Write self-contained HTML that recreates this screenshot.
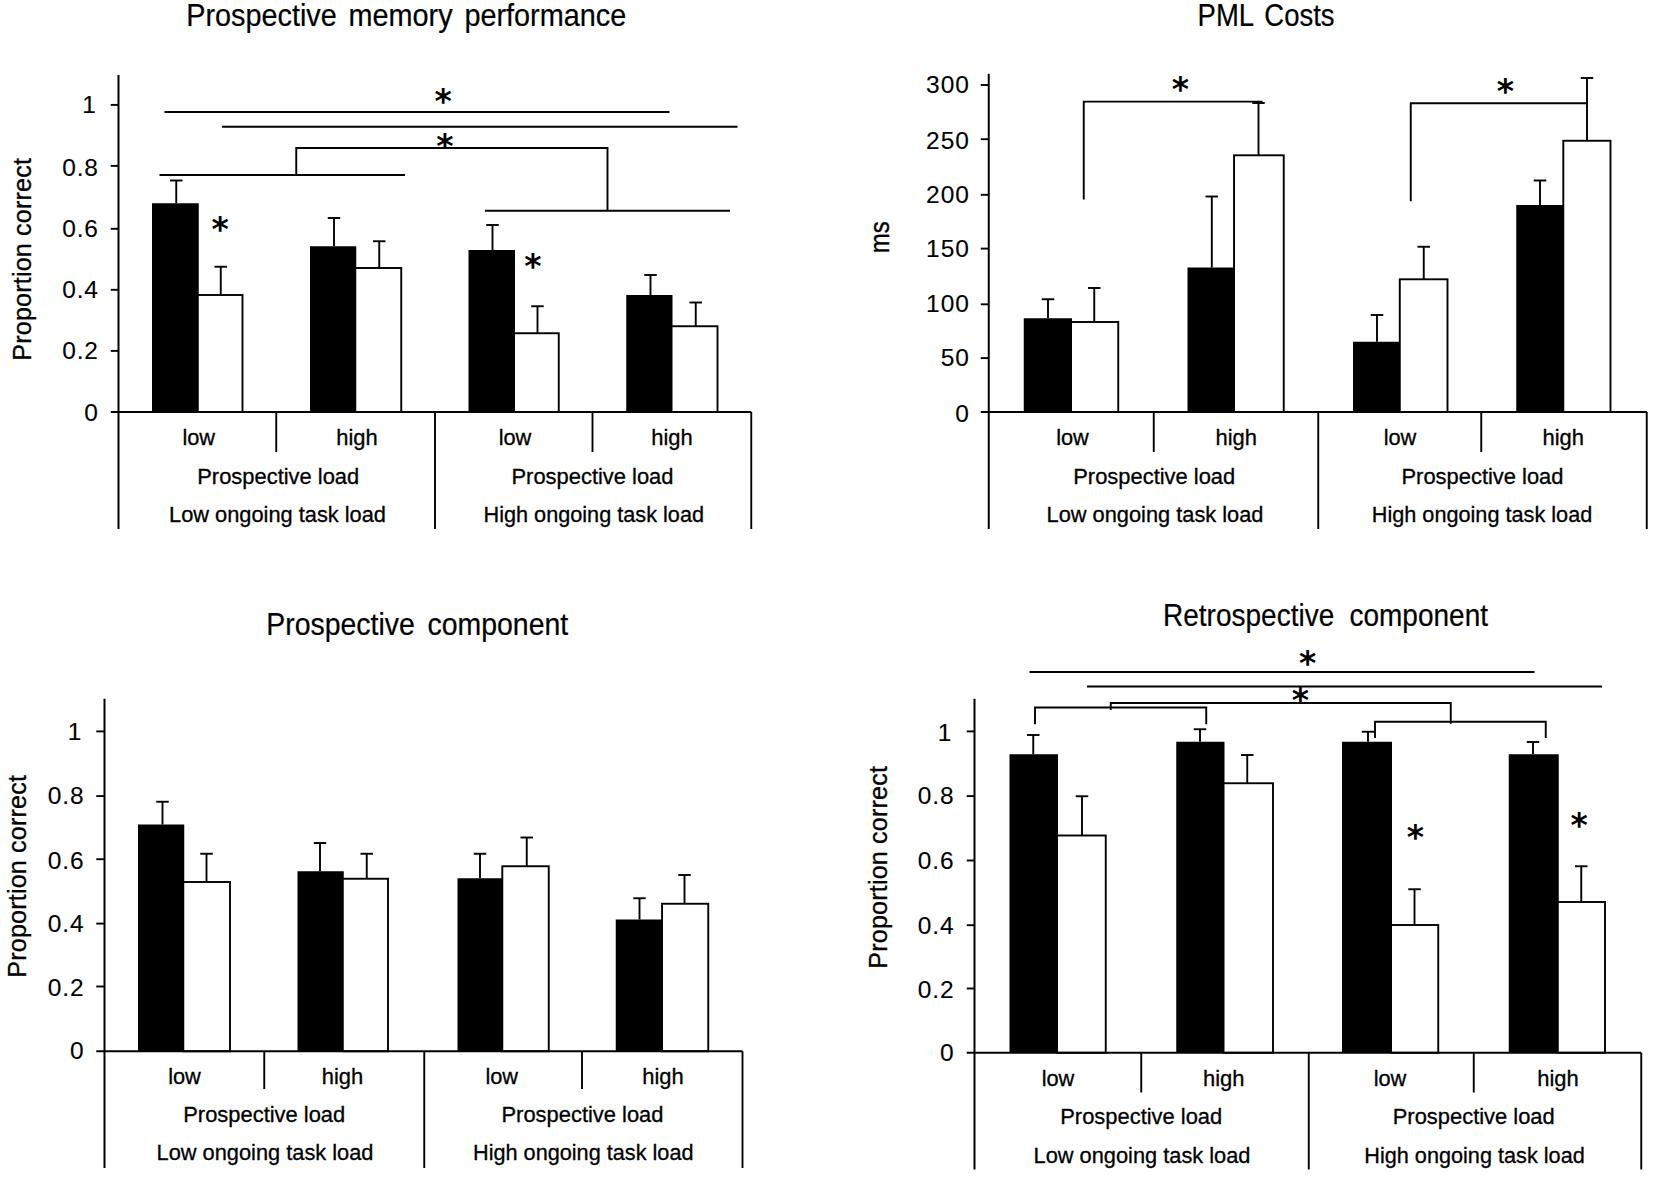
<!DOCTYPE html>
<html lang="en"><head><meta charset="utf-8"><title>Prospective memory figure</title>
<style>
html,body{margin:0;padding:0;background:#fff;}
body{width:1654px;height:1177px;overflow:hidden;}
svg{display:block;}
.sa{font-family:"Liberation Sans",sans-serif;fill:#000;stroke:#000;}
.st{font-family:"DejaVu Sans",sans-serif;font-weight:bold;fill:#000;}
</style></head><body>
<svg width="1654" height="1177" viewBox="0 0 1654 1177">
<rect width="1654" height="1177" fill="#fff"/>
<rect x="152" y="203.25" width="46.75" height="208.75" fill="#000"/>
<rect x="197.8" y="295" width="44.7" height="117" fill="#fff" stroke="#000" stroke-width="1.9"/>
<rect x="310" y="246.25" width="46.25" height="165.75" fill="#000"/>
<rect x="355.3" y="268" width="45.95" height="144" fill="#fff" stroke="#000" stroke-width="1.9"/>
<rect x="468.5" y="250" width="46.5" height="162" fill="#000"/>
<rect x="514.05" y="333.25" width="44.7" height="78.75" fill="#fff" stroke="#000" stroke-width="1.9"/>
<rect x="626.25" y="295" width="46.25" height="117" fill="#000"/>
<rect x="671.55" y="326.25" width="45.95" height="85.75" fill="#fff" stroke="#000" stroke-width="1.9"/>
<line x1="176.25" y1="180.5" x2="176.25" y2="203.25" stroke="#000" stroke-width="1.9"/>
<line x1="170.0" y1="180.5" x2="182.5" y2="180.5" stroke="#000" stroke-width="1.9"/>
<line x1="220.75" y1="266.75" x2="220.75" y2="295" stroke="#000" stroke-width="1.9"/>
<line x1="214.5" y1="266.75" x2="227.0" y2="266.75" stroke="#000" stroke-width="1.9"/>
<line x1="334" y1="218" x2="334" y2="246.25" stroke="#000" stroke-width="1.9"/>
<line x1="327.75" y1="218" x2="340.25" y2="218" stroke="#000" stroke-width="1.9"/>
<line x1="379.25" y1="241.25" x2="379.25" y2="268" stroke="#000" stroke-width="1.9"/>
<line x1="373.0" y1="241.25" x2="385.5" y2="241.25" stroke="#000" stroke-width="1.9"/>
<line x1="492.5" y1="225" x2="492.5" y2="250" stroke="#000" stroke-width="1.9"/>
<line x1="486.25" y1="225" x2="498.75" y2="225" stroke="#000" stroke-width="1.9"/>
<line x1="537.5" y1="306.25" x2="537.5" y2="333.25" stroke="#000" stroke-width="1.9"/>
<line x1="531.25" y1="306.25" x2="543.75" y2="306.25" stroke="#000" stroke-width="1.9"/>
<line x1="650.5" y1="275" x2="650.5" y2="295" stroke="#000" stroke-width="1.9"/>
<line x1="644.25" y1="275" x2="656.75" y2="275" stroke="#000" stroke-width="1.9"/>
<line x1="695.75" y1="302.5" x2="695.75" y2="326.25" stroke="#000" stroke-width="1.9"/>
<line x1="689.5" y1="302.5" x2="702.0" y2="302.5" stroke="#000" stroke-width="1.9"/>
<line x1="118.5" y1="75" x2="118.5" y2="529" stroke="#000" stroke-width="2"/>
<line x1="110.75" y1="412" x2="751.25" y2="412" stroke="#000" stroke-width="2"/>
<line x1="110.75" y1="104.9" x2="118.5" y2="104.9" stroke="#000" stroke-width="1.9"/>
<line x1="110.75" y1="165.9" x2="118.5" y2="165.9" stroke="#000" stroke-width="1.9"/>
<line x1="110.75" y1="228.8" x2="118.5" y2="228.8" stroke="#000" stroke-width="1.9"/>
<line x1="110.75" y1="289.8" x2="118.5" y2="289.8" stroke="#000" stroke-width="1.9"/>
<line x1="110.75" y1="350.9" x2="118.5" y2="350.9" stroke="#000" stroke-width="1.9"/>
<line x1="276.25" y1="412" x2="276.25" y2="452" stroke="#000" stroke-width="1.9"/>
<line x1="592.5" y1="412" x2="592.5" y2="452" stroke="#000" stroke-width="1.9"/>
<line x1="435" y1="412" x2="435" y2="529" stroke="#000" stroke-width="1.9"/>
<line x1="751.25" y1="412" x2="751.25" y2="529" stroke="#000" stroke-width="1.9"/>
<line x1="164.5" y1="112" x2="669.5" y2="112" stroke="#000" stroke-width="1.9"/>
<line x1="222" y1="126.75" x2="737.5" y2="126.75" stroke="#000" stroke-width="1.9"/>
<polyline points="296.25,175 296.25,148 607.5,148 607.5,210.75" fill="none" stroke="#000" stroke-width="1.9"/>
<line x1="159.5" y1="175" x2="405" y2="175" stroke="#000" stroke-width="1.9"/>
<line x1="485" y1="210.75" x2="730" y2="210.75" stroke="#000" stroke-width="1.9"/>
<text class="st" x="443.09999999999997" y="113.1" font-size="33" text-anchor="middle">*</text>
<text class="st" x="444.9" y="158.1" font-size="33" text-anchor="middle">*</text>
<text class="st" x="220.20000000000002" y="240.6" font-size="33" text-anchor="middle">*</text>
<text class="st" x="532.9" y="278.40000000000003" font-size="33" text-anchor="middle">*</text>
<text class="sa" x="186.2" y="25.8" font-size="30.5" stroke-width="0.2" text-anchor="start" textLength="440" lengthAdjust="spacingAndGlyphs" word-spacing="4">Prospective memory performance</text>
<text class="sa" x="96.7" y="112.8" font-size="24.5" stroke-width="0.1" text-anchor="end" letter-spacing="0.9">1</text>
<text class="sa" x="98.9" y="175.7" font-size="24.5" stroke-width="0.1" text-anchor="end" letter-spacing="0.9">0.8</text>
<text class="sa" x="98.9" y="236.6" font-size="24.5" stroke-width="0.1" text-anchor="end" letter-spacing="0.9">0.6</text>
<text class="sa" x="98.9" y="298" font-size="24.5" stroke-width="0.1" text-anchor="end" letter-spacing="0.9">0.4</text>
<text class="sa" x="98.9" y="359.2" font-size="24.5" stroke-width="0.1" text-anchor="end" letter-spacing="0.9">0.2</text>
<text class="sa" x="98.9" y="421.4" font-size="24.5" stroke-width="0.1" text-anchor="end" letter-spacing="0.9">0</text>
<text class="sa" transform="translate(31.4,259.4) rotate(-90) scale(1,1)" font-size="25.2" stroke-width="0.3" text-anchor="middle" textLength="202.7" lengthAdjust="spacing">Proportion correct</text>
<text class="sa" x="198.75" y="445.4" font-size="22" stroke-width="0.3" text-anchor="middle" textLength="32.7" lengthAdjust="spacingAndGlyphs">low</text>
<text class="sa" x="357" y="445.4" font-size="22" stroke-width="0.3" text-anchor="middle" textLength="41.5" lengthAdjust="spacingAndGlyphs">high</text>
<text class="sa" x="515" y="445.4" font-size="22" stroke-width="0.3" text-anchor="middle" textLength="32.7" lengthAdjust="spacingAndGlyphs">low</text>
<text class="sa" x="672" y="445.4" font-size="22" stroke-width="0.3" text-anchor="middle" textLength="41.5" lengthAdjust="spacingAndGlyphs">high</text>
<text class="sa" x="278.25" y="484.4" font-size="22" stroke-width="0.3" text-anchor="middle" textLength="162" lengthAdjust="spacingAndGlyphs">Prospective load</text>
<text class="sa" x="592.5" y="484.4" font-size="22" stroke-width="0.3" text-anchor="middle" textLength="162" lengthAdjust="spacingAndGlyphs">Prospective load</text>
<text class="sa" x="277.5" y="522.3" font-size="22" stroke-width="0.3" text-anchor="middle" textLength="217" lengthAdjust="spacingAndGlyphs">Low ongoing task load</text>
<text class="sa" x="593.75" y="522.3" font-size="22" stroke-width="0.3" text-anchor="middle" textLength="220.5" lengthAdjust="spacingAndGlyphs">High ongoing task load</text>
<rect x="1023.75" y="318.25" width="48.25" height="93.75" fill="#000"/>
<rect x="1071.05" y="322" width="47.2" height="90" fill="#fff" stroke="#000" stroke-width="1.9"/>
<rect x="1187.5" y="267.5" width="47.5" height="144.5" fill="#000"/>
<rect x="1234.05" y="155.3" width="49.7" height="256.7" fill="#fff" stroke="#000" stroke-width="1.9"/>
<rect x="1353" y="341.75" width="47.75" height="70.25" fill="#000"/>
<rect x="1399.8" y="279.3" width="47.7" height="132.7" fill="#fff" stroke="#000" stroke-width="1.9"/>
<rect x="1516.25" y="205" width="48.0" height="207" fill="#000"/>
<rect x="1563.3" y="140.75" width="47.2" height="271.25" fill="#fff" stroke="#000" stroke-width="1.9"/>
<line x1="1048" y1="299.25" x2="1048" y2="318.25" stroke="#000" stroke-width="1.9"/>
<line x1="1041.75" y1="299.25" x2="1054.25" y2="299.25" stroke="#000" stroke-width="1.9"/>
<line x1="1094.25" y1="288" x2="1094.25" y2="322" stroke="#000" stroke-width="1.9"/>
<line x1="1088.0" y1="288" x2="1100.5" y2="288" stroke="#000" stroke-width="1.9"/>
<line x1="1211.8" y1="196.5" x2="1211.8" y2="267.5" stroke="#000" stroke-width="1.9"/>
<line x1="1205.55" y1="196.5" x2="1218.05" y2="196.5" stroke="#000" stroke-width="1.9"/>
<line x1="1258.5" y1="103" x2="1258.5" y2="155.3" stroke="#000" stroke-width="1.9"/>
<line x1="1252.25" y1="103" x2="1264.75" y2="103" stroke="#000" stroke-width="1.9"/>
<line x1="1377" y1="315" x2="1377" y2="341.75" stroke="#000" stroke-width="1.9"/>
<line x1="1370.75" y1="315" x2="1383.25" y2="315" stroke="#000" stroke-width="1.9"/>
<line x1="1423.75" y1="246.75" x2="1423.75" y2="279.3" stroke="#000" stroke-width="1.9"/>
<line x1="1417.5" y1="246.75" x2="1430.0" y2="246.75" stroke="#000" stroke-width="1.9"/>
<line x1="1540" y1="180.5" x2="1540" y2="205" stroke="#000" stroke-width="1.9"/>
<line x1="1533.75" y1="180.5" x2="1546.25" y2="180.5" stroke="#000" stroke-width="1.9"/>
<line x1="1587" y1="78" x2="1587" y2="140.75" stroke="#000" stroke-width="1.9"/>
<line x1="1580.75" y1="78" x2="1593.25" y2="78" stroke="#000" stroke-width="1.9"/>
<line x1="988.75" y1="73.75" x2="988.75" y2="529" stroke="#000" stroke-width="2"/>
<line x1="980.75" y1="412" x2="1646.75" y2="412" stroke="#000" stroke-width="2"/>
<line x1="980.75" y1="85" x2="988.75" y2="85" stroke="#000" stroke-width="1.9"/>
<line x1="980.75" y1="139.2" x2="988.75" y2="139.2" stroke="#000" stroke-width="1.9"/>
<line x1="980.75" y1="194.8" x2="988.75" y2="194.8" stroke="#000" stroke-width="1.9"/>
<line x1="980.75" y1="248.6" x2="988.75" y2="248.6" stroke="#000" stroke-width="1.9"/>
<line x1="980.75" y1="304.3" x2="988.75" y2="304.3" stroke="#000" stroke-width="1.9"/>
<line x1="980.75" y1="358.1" x2="988.75" y2="358.1" stroke="#000" stroke-width="1.9"/>
<line x1="1153.75" y1="412" x2="1153.75" y2="452" stroke="#000" stroke-width="1.9"/>
<line x1="1481.25" y1="412" x2="1481.25" y2="452" stroke="#000" stroke-width="1.9"/>
<line x1="1318.25" y1="412" x2="1318.25" y2="529" stroke="#000" stroke-width="1.9"/>
<line x1="1646.75" y1="412" x2="1646.75" y2="529" stroke="#000" stroke-width="1.9"/>
<polyline points="1083.75,199.5 1083.75,101.6 1262.5,101.6" fill="none" stroke="#000" stroke-width="1.9"/>
<polyline points="1410.75,201.3 1410.75,103.25 1587,103.25" fill="none" stroke="#000" stroke-width="1.9"/>
<text class="st" x="1180.3000000000002" y="100.6" font-size="33" text-anchor="middle">*</text>
<text class="st" x="1505.4" y="102.5" font-size="33" text-anchor="middle">*</text>
<text class="sa" x="1197.6" y="25.8" font-size="30.5" stroke-width="0.2" text-anchor="start" textLength="137" lengthAdjust="spacingAndGlyphs" word-spacing="4">PML Costs</text>
<text class="sa" x="969.6999999999999" y="93.3" font-size="24.5" stroke-width="0.1" text-anchor="end" letter-spacing="0.9">300</text>
<text class="sa" x="969.6999999999999" y="148.7" font-size="24.5" stroke-width="0.1" text-anchor="end" letter-spacing="0.9">250</text>
<text class="sa" x="969.6999999999999" y="203.2" font-size="24.5" stroke-width="0.1" text-anchor="end" letter-spacing="0.9">200</text>
<text class="sa" x="969.6999999999999" y="257.1" font-size="24.5" stroke-width="0.1" text-anchor="end" letter-spacing="0.9">150</text>
<text class="sa" x="969.6999999999999" y="312.2" font-size="24.5" stroke-width="0.1" text-anchor="end" letter-spacing="0.9">100</text>
<text class="sa" x="969.6999999999999" y="365.9" font-size="24.5" stroke-width="0.1" text-anchor="end" letter-spacing="0.9">50</text>
<text class="sa" x="969.6999999999999" y="422.2" font-size="24.5" stroke-width="0.1" text-anchor="end" letter-spacing="0.9">0</text>
<text class="sa" transform="translate(889.3,237.2) rotate(-90) scale(1,1.12)" font-size="24" stroke-width="0.3" text-anchor="middle">ms</text>
<text class="sa" x="1072.5" y="445.4" font-size="22" stroke-width="0.3" text-anchor="middle" textLength="32.7" lengthAdjust="spacingAndGlyphs">low</text>
<text class="sa" x="1236.25" y="445.4" font-size="22" stroke-width="0.3" text-anchor="middle" textLength="41.5" lengthAdjust="spacingAndGlyphs">high</text>
<text class="sa" x="1400" y="445.4" font-size="22" stroke-width="0.3" text-anchor="middle" textLength="32.7" lengthAdjust="spacingAndGlyphs">low</text>
<text class="sa" x="1563.25" y="445.4" font-size="22" stroke-width="0.3" text-anchor="middle" textLength="41.5" lengthAdjust="spacingAndGlyphs">high</text>
<text class="sa" x="1154.25" y="484.4" font-size="22" stroke-width="0.3" text-anchor="middle" textLength="162" lengthAdjust="spacingAndGlyphs">Prospective load</text>
<text class="sa" x="1482.5" y="484.4" font-size="22" stroke-width="0.3" text-anchor="middle" textLength="162" lengthAdjust="spacingAndGlyphs">Prospective load</text>
<text class="sa" x="1155" y="522.3" font-size="22" stroke-width="0.3" text-anchor="middle" textLength="217" lengthAdjust="spacingAndGlyphs">Low ongoing task load</text>
<text class="sa" x="1482" y="522.3" font-size="22" stroke-width="0.3" text-anchor="middle" textLength="220.5" lengthAdjust="spacingAndGlyphs">High ongoing task load</text>
<rect x="138" y="824.5" width="46.25" height="226.75" fill="#000"/>
<rect x="183.3" y="882" width="46.7" height="169.25" fill="#fff" stroke="#000" stroke-width="1.9"/>
<rect x="297.5" y="871.25" width="46.25" height="180.0" fill="#000"/>
<rect x="342.8" y="878.75" width="45.2" height="172.5" fill="#fff" stroke="#000" stroke-width="1.9"/>
<rect x="457.5" y="878.25" width="45.75" height="173.0" fill="#000"/>
<rect x="502.3" y="866.25" width="46.45" height="185.0" fill="#fff" stroke="#000" stroke-width="1.9"/>
<rect x="615.75" y="919.5" width="47.25" height="131.75" fill="#000"/>
<rect x="662.05" y="903.75" width="46.2" height="147.5" fill="#fff" stroke="#000" stroke-width="1.9"/>
<line x1="162.5" y1="801.75" x2="162.5" y2="824.5" stroke="#000" stroke-width="1.9"/>
<line x1="156.25" y1="801.75" x2="168.75" y2="801.75" stroke="#000" stroke-width="1.9"/>
<line x1="206.5" y1="853.75" x2="206.5" y2="882" stroke="#000" stroke-width="1.9"/>
<line x1="200.25" y1="853.75" x2="212.75" y2="853.75" stroke="#000" stroke-width="1.9"/>
<line x1="320" y1="843" x2="320" y2="871.25" stroke="#000" stroke-width="1.9"/>
<line x1="313.75" y1="843" x2="326.25" y2="843" stroke="#000" stroke-width="1.9"/>
<line x1="366.75" y1="853.75" x2="366.75" y2="878.75" stroke="#000" stroke-width="1.9"/>
<line x1="360.5" y1="853.75" x2="373.0" y2="853.75" stroke="#000" stroke-width="1.9"/>
<line x1="480" y1="853.75" x2="480" y2="878.25" stroke="#000" stroke-width="1.9"/>
<line x1="473.75" y1="853.75" x2="486.25" y2="853.75" stroke="#000" stroke-width="1.9"/>
<line x1="526.75" y1="837.5" x2="526.75" y2="866.25" stroke="#000" stroke-width="1.9"/>
<line x1="520.5" y1="837.5" x2="533.0" y2="837.5" stroke="#000" stroke-width="1.9"/>
<line x1="639.5" y1="898.25" x2="639.5" y2="919.5" stroke="#000" stroke-width="1.9"/>
<line x1="633.25" y1="898.25" x2="645.75" y2="898.25" stroke="#000" stroke-width="1.9"/>
<line x1="684.5" y1="875" x2="684.5" y2="903.75" stroke="#000" stroke-width="1.9"/>
<line x1="678.25" y1="875" x2="690.75" y2="875" stroke="#000" stroke-width="1.9"/>
<line x1="104.5" y1="698.75" x2="104.5" y2="1168" stroke="#000" stroke-width="2"/>
<line x1="96.25" y1="1051.25" x2="742.5" y2="1051.25" stroke="#000" stroke-width="2"/>
<line x1="96.25" y1="731.4" x2="104.5" y2="731.4" stroke="#000" stroke-width="1.9"/>
<line x1="96.25" y1="796.1" x2="104.5" y2="796.1" stroke="#000" stroke-width="1.9"/>
<line x1="96.25" y1="859.2" x2="104.5" y2="859.2" stroke="#000" stroke-width="1.9"/>
<line x1="96.25" y1="923.6" x2="104.5" y2="923.6" stroke="#000" stroke-width="1.9"/>
<line x1="96.25" y1="986.5" x2="104.5" y2="986.5" stroke="#000" stroke-width="1.9"/>
<line x1="264.25" y1="1051.25" x2="264.25" y2="1089" stroke="#000" stroke-width="1.9"/>
<line x1="582" y1="1051.25" x2="582" y2="1089" stroke="#000" stroke-width="1.9"/>
<line x1="424.25" y1="1051.25" x2="424.25" y2="1168" stroke="#000" stroke-width="1.9"/>
<line x1="742.5" y1="1051.25" x2="742.5" y2="1168" stroke="#000" stroke-width="1.9"/>
<text class="sa" x="266.2" y="635.2" font-size="30.5" stroke-width="0.2" text-anchor="start" textLength="302" lengthAdjust="spacingAndGlyphs" word-spacing="5">Prospective component</text>
<text class="sa" x="82.4" y="739.5" font-size="24.5" stroke-width="0.1" text-anchor="end" letter-spacing="0.9">1</text>
<text class="sa" x="84.60000000000001" y="804" font-size="24.5" stroke-width="0.1" text-anchor="end" letter-spacing="0.9">0.8</text>
<text class="sa" x="84.60000000000001" y="868.5" font-size="24.5" stroke-width="0.1" text-anchor="end" letter-spacing="0.9">0.6</text>
<text class="sa" x="84.60000000000001" y="932" font-size="24.5" stroke-width="0.1" text-anchor="end" letter-spacing="0.9">0.4</text>
<text class="sa" x="84.60000000000001" y="996.2" font-size="24.5" stroke-width="0.1" text-anchor="end" letter-spacing="0.9">0.2</text>
<text class="sa" x="84.60000000000001" y="1059.3" font-size="24.5" stroke-width="0.1" text-anchor="end" letter-spacing="0.9">0</text>
<text class="sa" transform="translate(25.8,876.4) rotate(-90) scale(1,1)" font-size="25.2" stroke-width="0.3" text-anchor="middle" textLength="202.7" lengthAdjust="spacing">Proportion correct</text>
<text class="sa" x="184.5" y="1084.2" font-size="22" stroke-width="0.3" text-anchor="middle" textLength="32.7" lengthAdjust="spacingAndGlyphs">low</text>
<text class="sa" x="342.5" y="1084.2" font-size="22" stroke-width="0.3" text-anchor="middle" textLength="41.5" lengthAdjust="spacingAndGlyphs">high</text>
<text class="sa" x="501.75" y="1084.2" font-size="22" stroke-width="0.3" text-anchor="middle" textLength="32.7" lengthAdjust="spacingAndGlyphs">low</text>
<text class="sa" x="663" y="1084.2" font-size="22" stroke-width="0.3" text-anchor="middle" textLength="41.5" lengthAdjust="spacingAndGlyphs">high</text>
<text class="sa" x="264.25" y="1122.4" font-size="22" stroke-width="0.3" text-anchor="middle" textLength="162" lengthAdjust="spacingAndGlyphs">Prospective load</text>
<text class="sa" x="582.5" y="1122.4" font-size="22" stroke-width="0.3" text-anchor="middle" textLength="162" lengthAdjust="spacingAndGlyphs">Prospective load</text>
<text class="sa" x="265" y="1160.4" font-size="22" stroke-width="0.3" text-anchor="middle" textLength="217" lengthAdjust="spacingAndGlyphs">Low ongoing task load</text>
<text class="sa" x="583.25" y="1160.4" font-size="22" stroke-width="0.3" text-anchor="middle" textLength="220.5" lengthAdjust="spacingAndGlyphs">High ongoing task load</text>
<rect x="1009.5" y="754.25" width="48.5" height="298.5" fill="#000"/>
<rect x="1057.05" y="835.5" width="48.7" height="217.25" fill="#fff" stroke="#000" stroke-width="1.9"/>
<rect x="1176.25" y="741.75" width="48.25" height="311.0" fill="#000"/>
<rect x="1223.55" y="783.25" width="49.45" height="269.5" fill="#fff" stroke="#000" stroke-width="1.9"/>
<rect x="1342" y="741.75" width="50" height="311.0" fill="#000"/>
<rect x="1391.05" y="925" width="47.2" height="127.75" fill="#fff" stroke="#000" stroke-width="1.9"/>
<rect x="1508.75" y="754.25" width="50.0" height="298.5" fill="#000"/>
<rect x="1557.8" y="902" width="47.2" height="150.75" fill="#fff" stroke="#000" stroke-width="1.9"/>
<line x1="1033.25" y1="735" x2="1033.25" y2="754.25" stroke="#000" stroke-width="1.9"/>
<line x1="1027.0" y1="735" x2="1039.5" y2="735" stroke="#000" stroke-width="1.9"/>
<line x1="1082" y1="796.25" x2="1082" y2="835.5" stroke="#000" stroke-width="1.9"/>
<line x1="1075.75" y1="796.25" x2="1088.25" y2="796.25" stroke="#000" stroke-width="1.9"/>
<line x1="1200" y1="729.25" x2="1200" y2="741.75" stroke="#000" stroke-width="1.9"/>
<line x1="1193.75" y1="729.25" x2="1206.25" y2="729.25" stroke="#000" stroke-width="1.9"/>
<line x1="1247.25" y1="755" x2="1247.25" y2="783.25" stroke="#000" stroke-width="1.9"/>
<line x1="1241.0" y1="755" x2="1253.5" y2="755" stroke="#000" stroke-width="1.9"/>
<line x1="1368" y1="731.75" x2="1368" y2="741.75" stroke="#000" stroke-width="1.9"/>
<line x1="1361.75" y1="731.75" x2="1374.25" y2="731.75" stroke="#000" stroke-width="1.9"/>
<line x1="1414.5" y1="889.25" x2="1414.5" y2="925" stroke="#000" stroke-width="1.9"/>
<line x1="1408.25" y1="889.25" x2="1420.75" y2="889.25" stroke="#000" stroke-width="1.9"/>
<line x1="1533" y1="742" x2="1533" y2="754.25" stroke="#000" stroke-width="1.9"/>
<line x1="1526.75" y1="742" x2="1539.25" y2="742" stroke="#000" stroke-width="1.9"/>
<line x1="1581.25" y1="866.25" x2="1581.25" y2="902" stroke="#000" stroke-width="1.9"/>
<line x1="1575.0" y1="866.25" x2="1587.5" y2="866.25" stroke="#000" stroke-width="1.9"/>
<line x1="974.5" y1="698.75" x2="974.5" y2="1169.5" stroke="#000" stroke-width="2"/>
<line x1="966.75" y1="1052.75" x2="1641.25" y2="1052.75" stroke="#000" stroke-width="2"/>
<line x1="966.75" y1="731.4" x2="974.5" y2="731.4" stroke="#000" stroke-width="1.9"/>
<line x1="966.75" y1="796.1" x2="974.5" y2="796.1" stroke="#000" stroke-width="1.9"/>
<line x1="966.75" y1="860.5" x2="974.5" y2="860.5" stroke="#000" stroke-width="1.9"/>
<line x1="966.75" y1="925.2" x2="974.5" y2="925.2" stroke="#000" stroke-width="1.9"/>
<line x1="966.75" y1="988.5" x2="974.5" y2="988.5" stroke="#000" stroke-width="1.9"/>
<line x1="1141.25" y1="1052.75" x2="1141.25" y2="1092.5" stroke="#000" stroke-width="1.9"/>
<line x1="1473.75" y1="1052.75" x2="1473.75" y2="1092.5" stroke="#000" stroke-width="1.9"/>
<line x1="1308.75" y1="1052.75" x2="1308.75" y2="1169.5" stroke="#000" stroke-width="1.9"/>
<line x1="1641.25" y1="1052.75" x2="1641.25" y2="1169.5" stroke="#000" stroke-width="1.9"/>
<line x1="1029.5" y1="672" x2="1534.5" y2="672" stroke="#000" stroke-width="1.9"/>
<line x1="1087" y1="686.5" x2="1602" y2="686.5" stroke="#000" stroke-width="1.9"/>
<polyline points="1035,724.25 1035,707.5 1206.25,707.5 1206.25,724.25" fill="none" stroke="#000" stroke-width="1.9"/>
<polyline points="1110.75,710 1110.75,703 1450.75,703 1450.75,723.75" fill="none" stroke="#000" stroke-width="1.9"/>
<polyline points="1375,738 1375,721.75 1545.75,721.75 1545.75,738" fill="none" stroke="#000" stroke-width="1.9"/>
<text class="st" x="1307.7" y="675.1" font-size="33" text-anchor="middle">*</text>
<text class="st" x="1300.5" y="711.9" font-size="33" text-anchor="middle">*</text>
<text class="st" x="1415.4" y="849.1" font-size="33" text-anchor="middle">*</text>
<text class="st" x="1579.2" y="836.6" font-size="33" text-anchor="middle">*</text>
<text class="sa" x="1163" y="626" font-size="30.5" stroke-width="0.2" text-anchor="start" textLength="325" lengthAdjust="spacingAndGlyphs" word-spacing="8">Retrospective component</text>
<text class="sa" x="952.4" y="741" font-size="24.5" stroke-width="0.1" text-anchor="end" letter-spacing="0.9">1</text>
<text class="sa" x="954.6" y="804" font-size="24.5" stroke-width="0.1" text-anchor="end" letter-spacing="0.9">0.8</text>
<text class="sa" x="954.6" y="868.8" font-size="24.5" stroke-width="0.1" text-anchor="end" letter-spacing="0.9">0.6</text>
<text class="sa" x="954.6" y="933.5" font-size="24.5" stroke-width="0.1" text-anchor="end" letter-spacing="0.9">0.4</text>
<text class="sa" x="954.6" y="998" font-size="24.5" stroke-width="0.1" text-anchor="end" letter-spacing="0.9">0.2</text>
<text class="sa" x="954.6" y="1061" font-size="24.5" stroke-width="0.1" text-anchor="end" letter-spacing="0.9">0</text>
<text class="sa" transform="translate(887.3,867.4) rotate(-90) scale(1,1)" font-size="25.2" stroke-width="0.3" text-anchor="middle" textLength="202.7" lengthAdjust="spacing">Proportion correct</text>
<text class="sa" x="1058" y="1086.2" font-size="22" stroke-width="0.3" text-anchor="middle" textLength="32.7" lengthAdjust="spacingAndGlyphs">low</text>
<text class="sa" x="1223.75" y="1086.2" font-size="22" stroke-width="0.3" text-anchor="middle" textLength="41.5" lengthAdjust="spacingAndGlyphs">high</text>
<text class="sa" x="1390" y="1086.2" font-size="22" stroke-width="0.3" text-anchor="middle" textLength="32.7" lengthAdjust="spacingAndGlyphs">low</text>
<text class="sa" x="1558" y="1086.2" font-size="22" stroke-width="0.3" text-anchor="middle" textLength="41.5" lengthAdjust="spacingAndGlyphs">high</text>
<text class="sa" x="1141.25" y="1123.7" font-size="22" stroke-width="0.3" text-anchor="middle" textLength="162" lengthAdjust="spacingAndGlyphs">Prospective load</text>
<text class="sa" x="1473.75" y="1123.7" font-size="22" stroke-width="0.3" text-anchor="middle" textLength="162" lengthAdjust="spacingAndGlyphs">Prospective load</text>
<text class="sa" x="1142" y="1163.2" font-size="22" stroke-width="0.3" text-anchor="middle" textLength="217" lengthAdjust="spacingAndGlyphs">Low ongoing task load</text>
<text class="sa" x="1474.5" y="1163.2" font-size="22" stroke-width="0.3" text-anchor="middle" textLength="220.5" lengthAdjust="spacingAndGlyphs">High ongoing task load</text>
</svg>
</body></html>
